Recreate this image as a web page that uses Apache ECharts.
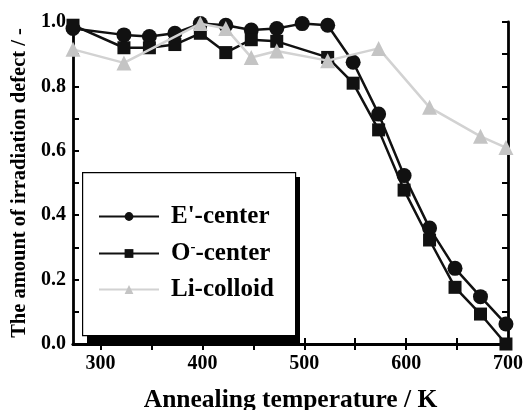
<!DOCTYPE html>
<html>
<head>
<meta charset="utf-8">
<script src="https://cdn.jsdelivr.net/npm/echarts@6/dist/echarts.min.js"></script>
<style>html,body{margin:0;padding:0;background:#fff;}#c{width:523px;height:410px;}</style>
</head>
<body>
<div id="c"></div>
<script>
const temps = [273, 323, 348, 373, 398, 423, 448, 473, 498, 523, 548, 573, 598, 623, 648, 673, 698];
const eCenter = [0.98, 0.96, 0.955, 0.965, 0.995, 0.99, 0.975, 0.98, 0.995, 0.99, 0.875, 0.714, 0.523, 0.36, 0.235, 0.147, 0.062];
const oCenter = [0.99, 0.92, 0.92, 0.93, 0.965, 0.905, 0.945, 0.94, null, 0.89, 0.81, 0.665, 0.478, 0.323, 0.176, 0.093, 0.0];
const liTemps = [273, 323, 398, 423, 448, 473, 523, 573, 623, 673, 698];
const liColloid = [0.915, 0.873, 0.995, 0.98, 0.89, 0.91, 0.88, 0.918, 0.735, 0.645, 0.61];
const xTickLabels = [300, 400, 500, 600, 700];
const xTicks = [300, 350, 400, 450, 500, 550, 600, 650, 700];

const pair = (xs, ys) => xs.map((x, i) => [x, ys[i]]).filter(p => p[1] !== null);
const font = '"Liberation Serif", "Times New Roman", serif';
const chart = echarts.init(document.getElementById('c'));
const axisLine = { lineStyle: { color: '#000', width: 2.8 } };
const tickStyle = { width: 2, color: '#000' };
chart.setOption({
  animation: false,
  grid: { left: 73, right: 15, top: 22, bottom: 66, show: false, containLabel: false, outerBoundsMode: 'none' },
  graphic: [
    { type: 'rect', left: 87, top: 177, z: 10, shape: { width: 213, height: 167 }, style: { fill: '#000' } },
    { type: 'rect', left: 82, top: 172, z: 11, shape: { width: 213, height: 163 }, style: { fill: '#fff', stroke: '#000', lineWidth: 1.2 } }
  ],
  legend: {
    left: 98, top: 204, orient: 'vertical', z: 20,
    padding: 0,
    itemGap: 11, itemWidth: 60, itemHeight: 11,
    textStyle: {
      fontFamily: font, fontWeight: 'bold', fontSize: 25, color: '#000', padding: [0, 0, 0, 7],
      rich: { sup: { fontFamily: font, fontWeight: 'bold', fontSize: 15, verticalAlign: 'top', padding: [0, 0, 12, 0] },
              t: { fontFamily: font, fontWeight: 'bold', fontSize: 25 } }
    },
    formatter: n => n === "O-center" ? "{t|O}{sup|-}{t|-center}" : n,
    data: ["E'-center", "O-center", "Li-colloid"]
  },
  xAxis: [{
    type: 'value', min: 273, max: 700, position: 'bottom',
    axisLine: axisLine,
    axisTick: { show: true, inside: true, length: 6, lineStyle: tickStyle, customValues: xTicks },
    axisLabel: { customValues: xTickLabels, fontFamily: font, fontWeight: 'bold', fontSize: 20, color: '#000', margin: 10 },
    splitLine: { show: false },
    name: 'Annealing temperature / K', nameLocation: 'middle', nameGap: 43,
    nameTextStyle: { fontFamily: font, fontWeight: 'bold', fontSize: 25.5, color: '#000' }
  }, {
    type: 'value', min: 273, max: 700, position: 'top',
    axisLine: axisLine,
    axisTick: { show: true, inside: true, length: 6, lineStyle: tickStyle, customValues: xTicks },
    axisLabel: { show: false }, splitLine: { show: false }
  }],
  yAxis: [{
    type: 'value', min: 0, max: 1, interval: 0.2, position: 'left',
    axisLine: axisLine,
    axisTick: { show: true, inside: true, length: 6, lineStyle: tickStyle },
    minorTick: { show: true, splitNumber: 2, length: 6, lineStyle: tickStyle },
    axisLabel: { fontFamily: font, fontWeight: 'bold', fontSize: 20, color: '#000', margin: 7, formatter: v => v.toFixed(1) },
    splitLine: { show: false },
    name: 'The amount of irradiation defect / -', nameLocation: 'middle', nameGap: 38,
    nameTextStyle: { fontFamily: font, fontWeight: 'bold', fontSize: 20.5, color: '#000' }
  }, {
    type: 'value', min: 0, max: 1, interval: 0.2, position: 'right',
    axisLine: axisLine,
    axisTick: { show: true, inside: true, length: 6, lineStyle: tickStyle },
    minorTick: { show: true, splitNumber: 2, length: 6, lineStyle: tickStyle },
    axisLabel: { show: false }, splitLine: { show: false }
  }],
  series: [
    { name: "E'-center", type: 'line', data: pair(temps, eCenter), symbol: 'circle', symbolSize: 15,
      clip: true, color: '#111', lineStyle: { width: 2.5, color: '#111' }, itemStyle: { color: '#111' }, z: 3 },
    { name: "O-center", type: 'line', data: pair(temps, oCenter), symbol: 'rect', symbolSize: 13,
      clip: true, color: '#111', lineStyle: { width: 2.5, color: '#111' }, itemStyle: { color: '#111' }, z: 3 },
    { name: "Li-colloid", type: 'line', data: pair(liTemps, liColloid), symbol: 'triangle', symbolSize: 15,
      clip: true, color: '#c4c4c4', lineStyle: { width: 2.5, color: '#d2d2d2' }, itemStyle: { color: '#c4c4c4' }, z: 4 }
  ]
});
</script>
</body>
</html>
